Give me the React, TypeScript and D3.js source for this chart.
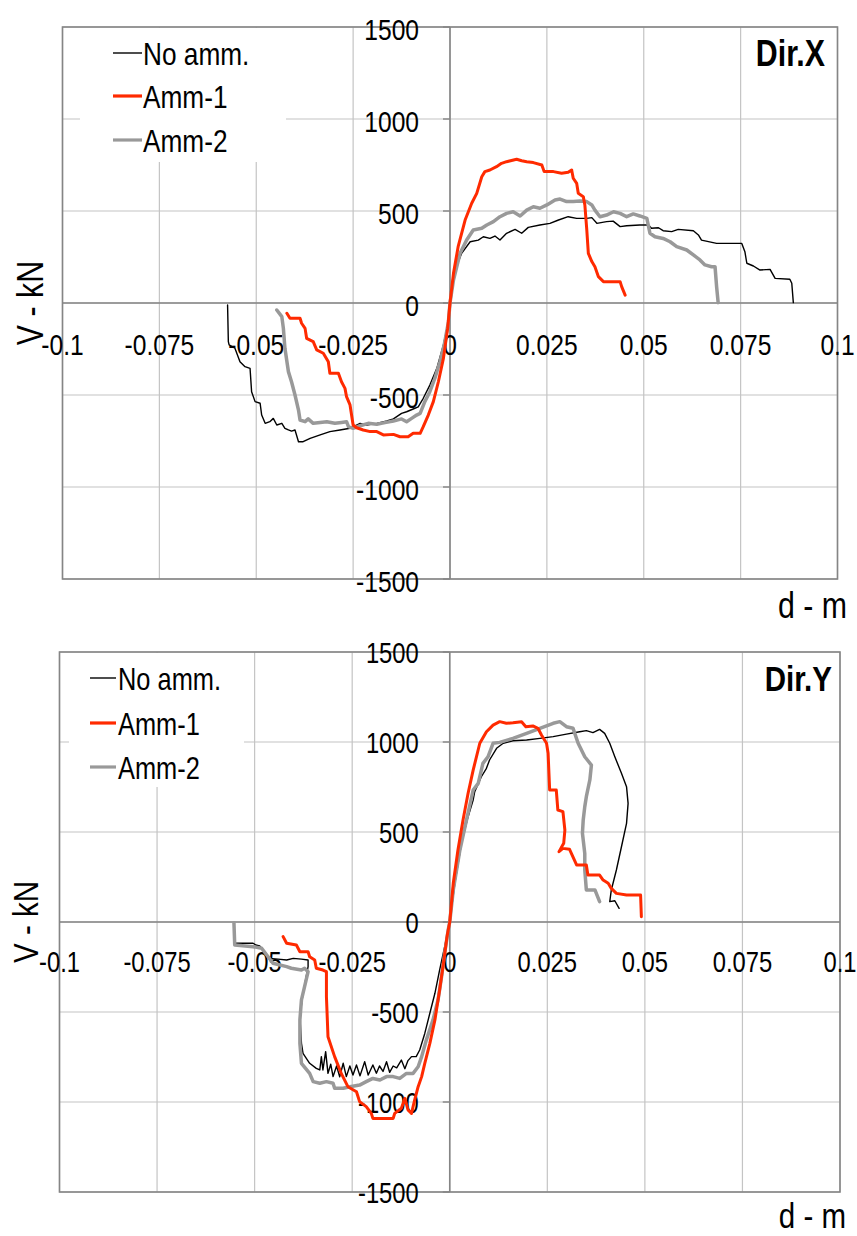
import React from "react";
import * as d3 from "d3";

// ---------- DATA ----------
const xTickValues = [-0.1, -0.075, -0.05, -0.025, 0, 0.025, 0.05, 0.075, 0.1];
const xTickLabels = ["-0.1", "-0.075", "-0.05", "-0.025", "0", "0.025", "0.05", "0.075", "0.1"];
const yTickValues = [-1500, -1000, -500, 0, 500, 1000, 1500];
const yTickLabels = ["-1500", "-1000", "-500", "0", "500", "1000", "1500"];
const seriesNames = ["No amm.", "Amm-1", "Amm-2"];
const xTitle = "d - m";
const yTitle = "V - kN";

// Dir.X  [d (m), V (kN)]
const dirX_noAmm: [number, number][] = [
  [-0.0574, -11], [-0.0572, -210], [-0.0570, -228], [-0.0555, -246], [-0.0542, -319], [-0.0529, -346],
  [-0.0516, -355], [-0.0512, -482], [-0.0503, -536], [-0.0490, -545], [-0.0486, -609], [-0.0477, -654],
  [-0.0465, -645], [-0.0456, -627], [-0.0447, -663], [-0.0434, -654], [-0.0426, -681], [-0.0417, -690],
  [-0.0409, -696], [-0.0400, -690], [-0.0391, -754], [-0.0379, -754], [-0.0361, -736], [-0.0335, -717],
  [-0.0310, -699], [-0.0284, -690], [-0.0258, -681], [-0.0232, -654], [-0.0215, -663], [-0.0189, -654],
  [-0.0163, -641], [-0.0146, -630], [-0.0125, -600], [-0.0112, -591], [-0.0095, -576], [-0.0082, -564],
  [-0.0069, -518], [-0.0052, -446], [-0.0034, -355], [-0.0017, -228], [-0.0004, -102], [0, 0],
  [0.0013, 179], [0.0030, 270], [0.0052, 333], [0.0073, 342], [0.0086, 360], [0.0103, 351], [0.0116, 364],
  [0.0129, 342], [0.0146, 379], [0.0168, 400], [0.0185, 379], [0.0202, 411], [0.0232, 424], [0.0258, 433],
  [0.0280, 451], [0.0305, 469], [0.0327, 460], [0.0353, 460], [0.0366, 464], [0.0379, 433], [0.0404, 442],
  [0.0421, 445], [0.0439, 415], [0.0456, 420], [0.0490, 424], [0.0512, 424], [0.0520, 406], [0.0538, 409],
  [0.0550, 393], [0.0572, 388], [0.0589, 400], [0.0628, 393], [0.0641, 370], [0.0649, 342], [0.0688, 324],
  [0.0753, 324], [0.0761, 279], [0.0766, 216], [0.0783, 201], [0.0800, 179], [0.0826, 183], [0.0839, 134],
  [0.0877, 129], [0.0882, 107], [0.0886, 2],
];
const dirX_amm1: [number, number][] = [
  [-0.0421, -56], [-0.0413, -83], [-0.0387, -83], [-0.0383, -110], [-0.0374, -138], [-0.0370, -192],
  [-0.0353, -210], [-0.0344, -255], [-0.0327, -273], [-0.0314, -319], [-0.0310, -382], [-0.0288, -382],
  [-0.0280, -428], [-0.0271, -464], [-0.0267, -509], [-0.0258, -554], [-0.0250, -663], [-0.0241, -678],
  [-0.0224, -690], [-0.0206, -699], [-0.0189, -699], [-0.0172, -717], [-0.0146, -714], [-0.0129, -727],
  [-0.0108, -727], [-0.0095, -708], [-0.0077, -708], [-0.0069, -672], [-0.0056, -609], [-0.0043, -536],
  [-0.0030, -428], [-0.0017, -301], [-0.0006, -138], [0, 0],
  [0.0009, 161], [0.0021, 306], [0.0039, 451], [0.0056, 542], [0.0069, 596], [0.0082, 686], [0.0090, 714],
  [0.0103, 723], [0.0120, 741], [0.0133, 759], [0.0146, 768], [0.0172, 781], [0.0185, 773], [0.0198, 768],
  [0.0215, 763], [0.0237, 750], [0.0243, 714], [0.0267, 714], [0.0288, 705], [0.0305, 710], [0.0314, 723],
  [0.0318, 678], [0.0327, 650], [0.0331, 596], [0.0344, 578], [0.0348, 533], [0.0353, 397], [0.0357, 270],
  [0.0366, 225], [0.0374, 197], [0.0383, 143], [0.0396, 116], [0.0439, 116], [0.0443, 89], [0.0452, 43],
];
const dirX_amm2: [number, number][] = [
  [-0.0447, -38], [-0.0434, -74], [-0.0430, -138], [-0.0426, -246], [-0.0417, -373], [-0.0409, -428],
  [-0.0400, -500], [-0.0391, -582], [-0.0387, -636], [-0.0374, -645], [-0.0366, -630], [-0.0353, -654],
  [-0.0335, -649], [-0.0318, -645], [-0.0297, -654], [-0.0280, -649], [-0.0267, -645], [-0.0262, -672],
  [-0.0250, -681], [-0.0232, -667], [-0.0211, -654], [-0.0189, -659], [-0.0168, -650], [-0.0146, -641],
  [-0.0125, -630], [-0.0112, -645], [-0.0099, -627], [-0.0086, -609], [-0.0077, -600], [-0.0065, -536],
  [-0.0052, -482], [-0.0039, -409], [-0.0026, -319], [-0.0015, -228], [-0.0004, -102], [0, 0],
  [0.0009, 125], [0.0026, 270], [0.0043, 342], [0.0060, 397], [0.0082, 406], [0.0095, 424], [0.0112, 442],
  [0.0129, 469], [0.0146, 487], [0.0163, 496], [0.0181, 473], [0.0198, 505], [0.0215, 523], [0.0232, 515],
  [0.0250, 533], [0.0271, 560], [0.0284, 565], [0.0301, 551], [0.0318, 551], [0.0335, 554], [0.0353, 551],
  [0.0366, 533], [0.0374, 505], [0.0387, 469], [0.0404, 478], [0.0422, 496], [0.0439, 487], [0.0456, 469],
  [0.0473, 484], [0.0490, 473], [0.0508, 460], [0.0516, 379], [0.0529, 360], [0.0550, 351], [0.0568, 333],
  [0.0585, 306], [0.0611, 288], [0.0628, 261], [0.0645, 234], [0.0658, 207], [0.0675, 197], [0.0684, 197],
  [0.0688, 89], [0.0692, 2],
];

// Dir.Y  [d (m), V (kN)]
const dirY_noAmm: [number, number][] = [
  [-0.0551, -118], [-0.0504, -118], [-0.0497, -128], [-0.0487, -133], [-0.0461, -202], [-0.0440, -206],
  [-0.0418, -211], [-0.0401, -202], [-0.0380, -206], [-0.0363, -211], [-0.0363, -248], [-0.0376, -396],
  [-0.0384, -526], [-0.0380, -674], [-0.0376, -730], [-0.0359, -785], [-0.0342, -813], [-0.0333, -822],
  [-0.0329, -748], [-0.0325, -822], [-0.0318, -720], [-0.0312, -841], [-0.0305, -790], [-0.0299, -859],
  [-0.0290, -800], [-0.0282, -860], [-0.0273, -785], [-0.0265, -859], [-0.0256, -800], [-0.0248, -850],
  [-0.0239, -794], [-0.0230, -855], [-0.0218, -776], [-0.0209, -850], [-0.0197, -794], [-0.0188, -840],
  [-0.0180, -800], [-0.0171, -830], [-0.0162, -776], [-0.0154, -835], [-0.0145, -800], [-0.0136, -810],
  [-0.0124, -767], [-0.0115, -815], [-0.0107, -770], [-0.0098, -748], [-0.0086, -748], [-0.0077, -711],
  [-0.0064, -619], [-0.0051, -507], [-0.0038, -396], [-0.0026, -267], [-0.0013, -137], [0, 0],
  [0.0013, 215], [0.0030, 437], [0.0047, 585], [0.0060, 678], [0.0064, 724], [0.0081, 807], [0.0094, 854],
  [0.0102, 900], [0.0120, 965], [0.0137, 993], [0.0162, 1007], [0.0197, 1011], [0.0231, 1020], [0.0265, 1030],
  [0.0299, 1044], [0.0333, 1057], [0.0350, 1063], [0.0367, 1052], [0.0384, 1070], [0.0397, 1048],
  [0.0410, 993], [0.0423, 918], [0.0440, 826], [0.0453, 752], [0.0457, 659], [0.0453, 548], [0.0440, 418],
  [0.0427, 289], [0.0414, 178], [0.0410, 113], [0.0423, 118], [0.0434, 76],
];
const dirY_amm1: [number, number][] = [
  [-0.0427, -81], [-0.0418, -118], [-0.0393, -128], [-0.0384, -165], [-0.0363, -165], [-0.0359, -193],
  [-0.0346, -211], [-0.0342, -257], [-0.0325, -267], [-0.0316, -276], [-0.0316, -415], [-0.0312, -637],
  [-0.0295, -748], [-0.0278, -841], [-0.0261, -915], [-0.0239, -943], [-0.0231, -998], [-0.0214, -1026],
  [-0.0201, -1063], [-0.0197, -1091], [-0.0171, -1091], [-0.0145, -1091], [-0.0141, -1063], [-0.0124, -1035],
  [-0.0115, -980], [-0.0107, -1044], [-0.0098, -1063], [-0.0090, -989], [-0.0081, -915], [-0.0072, -859],
  [-0.0064, -785], [-0.0051, -674], [-0.0038, -544], [-0.0026, -378], [-0.0015, -211], [-0.0007, -81], [0, 0],
  [0.0009, 215], [0.0021, 400], [0.0034, 567], [0.0047, 715], [0.0060, 844], [0.0077, 993], [0.0094, 1057],
  [0.0111, 1094], [0.0128, 1113], [0.0145, 1104], [0.0162, 1107], [0.0184, 1113], [0.0195, 1085],
  [0.0213, 1089], [0.0226, 1076], [0.0235, 1039], [0.0248, 993], [0.0252, 937], [0.0256, 733], [0.0273, 733],
  [0.0277, 622], [0.0290, 613], [0.0295, 511], [0.0292, 437], [0.0280, 391], [0.0290, 409], [0.0307, 404],
  [0.0325, 317], [0.0350, 317], [0.0354, 261], [0.0384, 261], [0.0393, 233], [0.0406, 215], [0.0414, 187],
  [0.0427, 159], [0.0453, 150], [0.0489, 150], [0.0491, 29],
];
const dirY_amm2: [number, number][] = [
  [-0.0553, -4], [-0.0551, -128], [-0.0504, -137], [-0.0482, -146], [-0.0453, -229], [-0.0418, -248],
  [-0.0406, -257], [-0.0380, -267], [-0.0372, -257], [-0.0363, -276], [-0.0372, -359], [-0.0380, -433],
  [-0.0384, -544], [-0.0384, -674], [-0.0380, -785], [-0.0359, -841], [-0.0350, -887], [-0.0333, -896],
  [-0.0316, -887], [-0.0299, -896], [-0.0295, -924], [-0.0273, -924], [-0.0256, -915], [-0.0231, -906],
  [-0.0214, -887], [-0.0197, -869], [-0.0179, -878], [-0.0162, -859], [-0.0145, -859], [-0.0128, -869],
  [-0.0111, -841], [-0.0094, -841], [-0.0081, -804], [-0.0072, -748], [-0.0060, -656], [-0.0043, -544],
  [-0.0030, -433], [-0.0021, -304], [-0.0013, -174], [-0.0004, -44], [0, 0],
  [0.0009, 178], [0.0026, 400], [0.0043, 567], [0.0060, 733], [0.0073, 770], [0.0085, 881], [0.0098, 918],
  [0.0111, 993], [0.0128, 998], [0.0162, 1020], [0.0197, 1048], [0.0231, 1076], [0.0265, 1104],
  [0.0282, 1113], [0.0299, 1085], [0.0316, 1076], [0.0329, 993], [0.0346, 918], [0.0363, 872], [0.0359, 789],
  [0.0350, 696], [0.0346, 641], [0.0342, 567], [0.0340, 493], [0.0346, 381], [0.0346, 289], [0.0350, 178],
  [0.0372, 178], [0.0384, 113],
];

// ---------- STYLE / LAYOUT ----------
const FONT = "'Liberation Sans', Arial, sans-serif";
const NARROW = 0.82; // horizontal condensing to mimic a narrow face
const COLORS = ["#000000", "#ff2a00", "#999999"];
const WIDTHS = [1.4, 3, 3.5];

type Panel = {
  title: string;
  series: [number, number][][];
  left: number; right: number; top: number; bottom: number;
  legend: { x0: number; x1: number; y0: number; y1: number; lineX0: number; lineX1: number; textX: number; baselines: number[]; fs: number };
  tickFs: number; yLabOff: number; xLabOff: number;
  titleX: number; titleY: number; titleFs: number;
  vX: number; vFs: number; dX: number; dY: number;
};

const panels: Panel[] = [
  {
    title: "Dir.X", series: [dirX_noAmm, dirX_amm1, dirX_amm2],
    left: 62.5, right: 837.5, top: 27, bottom: 579,
    legend: { x0: 80, x1: 286, y0: 27, y1: 162, lineX0: 113, lineX1: 142, textX: 143, baselines: [65, 108, 152], fs: 32 },
    tickFs: 30, yLabOff: 13, xLabOff: 52,
    titleX: 825, titleY: 66, titleFs: 37,
    vX: 43, vFs: 37, dX: 847, dY: 618,
  },
  {
    title: "Dir.Y", series: [dirY_noAmm, dirY_amm1, dirY_amm2],
    left: 59.5, right: 840, top: 652, bottom: 1192,
    legend: { x0: 69, x1: 244, y0: 652, y1: 787, lineX0: 90, lineX1: 116, textX: 118, baselines: [690, 735, 779], fs: 31 },
    tickFs: 29, yLabOff: 11, xLabOff: 50,
    titleX: 832, titleY: 691, titleFs: 36,
    vX: 38, vFs: 36, dX: 846, dY: 1228,
  },
];

function T(props: { x: number; y: number; fs: number; anchor?: string; bold?: boolean; rotate?: number; children: React.ReactNode }) {
  const { x, y, fs, anchor = "start", bold = false, rotate = 0, children } = props;
  const tr = `translate(${x},${y})${rotate ? ` rotate(${rotate})` : ""} scale(${NARROW},1)`;
  return (
    <text transform={tr} textAnchor={anchor} fontSize={fs} fontWeight={bold ? "bold" : "normal"} fontFamily={FONT} fill="#000">
      {children}
    </text>
  );
}

function ChartPanel({ p }: { p: Panel }) {
  const x = d3.scaleLinear().domain([-0.1, 0.1]).range([p.left, p.right]);
  const y = d3.scaleLinear().domain([-1500, 1500]).range([p.bottom, p.top]);
  const line = d3.line<[number, number]>().x((d) => x(d[0])).y((d) => y(d[1]));
  const x0 = x(0), y0 = y(0);
  const L = p.legend;
  return (
    <g>
      {xTickValues.map((v) => (
        <line key={"gx" + v} x1={x(v)} x2={x(v)} y1={p.top} y2={p.bottom} stroke="#c4c4c4" strokeWidth={1.2} />
      ))}
      {yTickValues.map((v) => (
        <line key={"gy" + v} x1={p.left} x2={p.right} y1={y(v)} y2={y(v)} stroke="#c4c4c4" strokeWidth={1.2} />
      ))}
      <rect x={L.x0} y={L.y0 + 1} width={L.x1 - L.x0} height={L.y1 - L.y0 - 1} fill="#ffffff" />
      <rect x={p.left} y={p.top} width={p.right - p.left} height={p.bottom - p.top} fill="none" stroke="#858585" strokeWidth={1.6} />
      <line x1={p.left} x2={p.right} y1={y0} y2={y0} stroke="#858585" strokeWidth={1.6} />
      <line x1={x0} x2={x0} y1={p.top} y2={p.bottom} stroke="#858585" strokeWidth={1.6} />
      {yTickValues.map((v) => (
        <line key={"ty" + v} x1={x0 - 7} x2={x0} y1={y(v)} y2={y(v)} stroke="#858585" strokeWidth={1.4} />
      ))}
      {yTickValues.map((v, i) => (
        <T key={"ly" + v} x={x0 - 31} y={y(v) + p.yLabOff} fs={p.tickFs} anchor="end">{yTickLabels[i]}</T>
      ))}
      {xTickValues.map((v, i) => (
        <T key={"lx" + v} x={x(v)} y={y0 + p.xLabOff} fs={p.tickFs} anchor="middle">{xTickLabels[i]}</T>
      ))}
      {[0, 2, 1].map((si) => (
        <path key={"s" + si} d={line(p.series[si]) || ""} fill="none" stroke={COLORS[si]} strokeWidth={WIDTHS[si]} strokeLinejoin="round" strokeLinecap="round" />
      ))}
      {seriesNames.map((n, i) => (
        <g key={"lg" + i}>
          <line x1={L.lineX0} x2={L.lineX1} y1={L.baselines[i] - 12} y2={L.baselines[i] - 12} stroke={COLORS[i]} strokeWidth={i === 0 ? 1.4 : 3.2} />
          <T x={L.textX} y={L.baselines[i]} fs={L.fs}>{n}</T>
        </g>
      ))}
      <T x={p.titleX} y={p.titleY} fs={p.titleFs} anchor="end" bold>{p.title}</T>
      <T x={p.vX} y={y0} fs={p.vFs} anchor="middle" rotate={-90}>{yTitle}</T>
      <T x={p.dX} y={p.dY} fs={p.vFs} anchor="end">{xTitle}</T>
    </g>
  );
}

export default function App() {
  return (
    <svg width={857} height={1236} viewBox="0 0 857 1236" style={{ position: "absolute", left: 0, top: 0, background: "#fff" }}>
      <rect x={0} y={0} width={857} height={1236} fill="#fff" />
      {panels.map((p, i) => <ChartPanel key={i} p={p} />)}
    </svg>
  );
}
